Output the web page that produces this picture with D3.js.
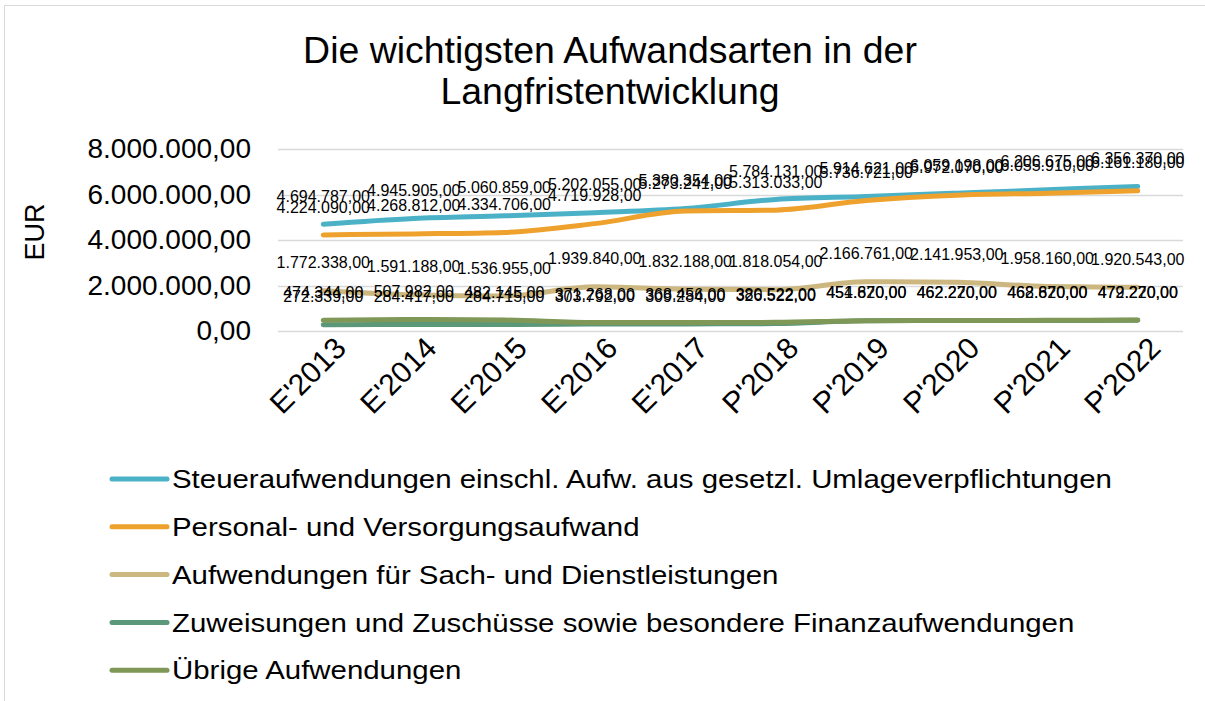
<!DOCTYPE html>
<html>
<head>
<meta charset="utf-8">
<script src="https://cdn.jsdelivr.net/npm/d3@7"></script>
<style>
  body { margin: 0; background: #fff; }
  text { font-family: 'Liberation Sans', Arial, sans-serif; fill: #000; }
</style>
</head>
<body>
<div id="chart"></div>
<script>
const years = ["E'2013", "E'2014", "E'2015", "E'2016", "E'2017", "P'2018", "P'2019", "P'2020", "P'2021", "P'2022"];
const steuer = [4694787, 4945905, 5060859, 5202055, 5380354, 5784131, 5914621, 6059198, 6206675, 6356370];
const personal = [4224090, 4268812, 4334706, 4719928, 5273241, 5313033, 5736721, 5972070, 6055910, 6161180];
const sach = [1772338, 1591188, 1536955, 1939840, 1832188, 1818054, 2166761, 2141953, 1958160, 1920543];
const zuweisungen = [272339, 284417, 284715, 303792, 309284, 326522, 451670, 462220, 462670, 472220];
const uebrige = [474344, 507982, 482145, 371268, 368456, 380522, 454820, 462270, 468820, 479270];
const seriesNames = [
  'Steueraufwendungen einschl. Aufw. aus gesetzl. Umlageverpflichtungen',
  'Personal- und Versorgungsaufwand',
  'Aufwendungen für Sach- und Dienstleistungen',
  'Zuweisungen und Zuschüsse sowie besondere Finanzaufwendungen',
  'Übrige Aufwendungen',
];
const yTicks = [0, 2000000, 4000000, 6000000, 8000000];

const colors = ['#4bb1c7', '#eea22d', '#cbb77f', '#5b987a', '#7f9858'];
const seriesValues = [steuer, personal, sach, zuweisungen, uebrige];

const svgWidth = 1205;
const svgHeight = 701;
const plot = { left: 278, right: 1183, top: 149, bottom: 331 };

const de = d3.formatLocale({ decimal: ',', thousands: '.', grouping: [3], currency: ['', '€'] });
const fmt = de.format(',.2f');

const svg = d3.select('#chart').append('svg')
  .attr('width', svgWidth)
  .attr('height', svgHeight);

// chart border (right/bottom edges run off the page like in the source)
svg.append('rect')
  .attr('x', 4.5).attr('y', 5.5)
  .attr('width', 1300).attr('height', 720)
  .attr('fill', 'none')
  .attr('stroke', '#d9d9d9');

const title = svg.append('g')
  .attr('transform', 'translate(610, 0) scale(1.04, 1)');
title.append('text')
  .attr('x', 0).attr('y', 63)
  .attr('text-anchor', 'middle')
  .attr('font-size', '36px')
  .text('Die wichtigsten Aufwandsarten in der');
title.append('text')
  .attr('x', 0).attr('y', 104)
  .attr('text-anchor', 'middle')
  .attr('font-size', '36px')
  .text('Langfristentwicklung');

const x = d3.scalePoint().domain(years).range([plot.left, plot.right]).padding(0.5);
const y = d3.scaleLinear().domain([0, 8000000]).range([plot.bottom, plot.top]);

// gridlines
svg.append('g')
  .selectAll('line')
  .data(yTicks)
  .enter()
  .append('line')
  .attr('x1', plot.left).attr('x2', plot.right)
  .attr('y1', (d) => Math.round(y(d)) + 0.5)
  .attr('y2', (d) => Math.round(y(d)) + 0.5)
  .attr('stroke', '#d9d9d9')
  .attr('stroke-width', 1.5);

// y axis
const yAxis = svg.append('g')
  .attr('transform', `translate(${plot.left - 27}, 0)`)
  .call(d3.axisLeft(y).tickValues(yTicks).tickFormat(fmt).tickSize(0).tickPadding(0));
yAxis.select('.domain').remove();
yAxis.selectAll('text')
  .attr('font-size', '28px')
  .attr('font-family', "'Liberation Sans', Arial, sans-serif")
  .attr('fill', '#000');

svg.append('text')
  .attr('transform', 'translate(44, 232) rotate(-90)')
  .attr('text-anchor', 'middle')
  .attr('font-size', '27px')
  .text('EUR');

// x axis
const xAxis = svg.append('g')
  .attr('transform', `translate(0, ${plot.bottom})`)
  .call(d3.axisBottom(x).tickSize(0).tickPadding(0));
xAxis.select('.domain').remove();
xAxis.selectAll('text')
  .attr('font-size', '30px')
  .attr('font-family', "'Liberation Sans', Arial, sans-serif")
  .attr('fill', '#000')
  .attr('text-anchor', 'end')
  .attr('dy', 0)
  .attr('transform', 'translate(24, 19) rotate(-45)');

// lines
const line = d3.line()
  .x((d, i) => x(years[i]))
  .y((d) => y(d))
  .curve(d3.curveMonotoneX);

seriesValues.forEach((vals, s) => {
  svg.append('path')
    .datum(vals)
    .attr('fill', 'none')
    .attr('stroke', colors[s])
    .attr('stroke-width', 5)
    .attr('stroke-linecap', 'round')
    .attr('d', line);
});

// data labels
seriesValues.forEach((vals, s) => {
  svg.append('g')
    .selectAll('text')
    .data(vals)
    .enter()
    .append('text')
    .attr('x', (d, i) => x(years[i]))
    .attr('y', (d) => y(d) - 28)
    .attr('dy', '0.35em')
    .attr('text-anchor', 'middle')
    .attr('font-size', '16px')
    .text((d) => fmt(d));
});

// legend
const legend = svg.append('g');
seriesNames.forEach((name, s) => {
  const ly = 479 + s * 47.8;
  legend.append('line')
    .attr('x1', 112).attr('x2', 167)
    .attr('y1', ly).attr('y2', ly)
    .attr('stroke', colors[s])
    .attr('stroke-width', 5)
    .attr('stroke-linecap', 'round');
  legend.append('text')
    .attr('transform', `translate(172, ${ly}) scale(1.11, 1)`)
    .attr('dy', '0.35em')
    .attr('font-size', '26.5px')
    .text(name);
});
</script>
</body>
</html>
